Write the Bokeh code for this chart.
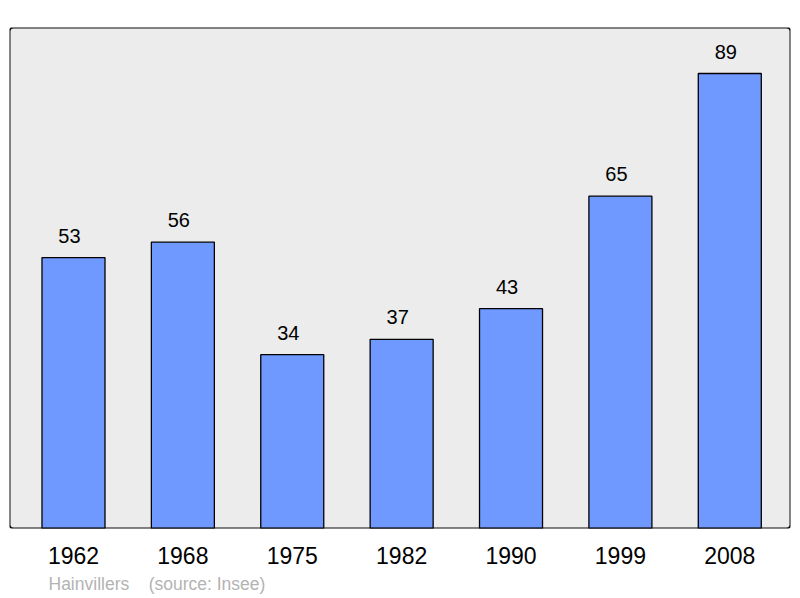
from bokeh.plotting import figure
from bokeh.models import Range1d, FixedTicker, BoxAnnotation, Title, ColumnDataSource
from bokeh.core.properties import value
from bokeh.embed import file_html
from bokeh.resources import INLINE

years = ["1962", "1968", "1975", "1982", "1990", "1999", "2008"]
population = [53, 56, 34, 37, 43, 65, 89]
place = "Hainvillers"
source_note = "(source: Insee)"

xs = list(range(len(years)))
src = ColumnDataSource(dict(x=xs, top=population, label=[str(v) for v in population]))

p = figure(width=800, height=598, output_backend="svg", toolbar_location=None,
           x_range=Range1d(-0.585, 6.555), y_range=Range1d(0, 98),
           min_border_left=9, min_border_right=10, min_border_top=27, min_border_bottom=70)
p.background_fill_color = "white"
p.border_fill_color = "white"
p.outline_line_color = None
p.xgrid.visible = False
p.ygrid.visible = False
p.yaxis.visible = False

bg = BoxAnnotation(fill_color="#ececec", fill_alpha=1, line_color=None, level="underlay",
                   border_radius=4)
p.add_layout(bg)

p.vbar(x="x", top="top", bottom=0, width=0.576, source=src,
       fill_color="#7099ff", line_color="black", line_width=1.3)

p.text(x="x", y="top", text="label", source=src, text_align="center",
       text_baseline="alphabetic", y_offset=-22, x_offset=-4,
       text_font_size=value("20px"), text_font=value("Liberation Sans"), text_color="black")

frame = BoxAnnotation(fill_alpha=0, line_color="#111111", line_alpha=1, line_width=2,
                      border_radius=4, level="overlay")
p.add_layout(frame)

ax = p.xaxis[0]
ax.ticker = FixedTicker(ticks=xs)
ax.major_label_overrides = {i: y for i, y in enumerate(years)}
ax.axis_line_color = None
ax.major_tick_line_color = None
ax.minor_tick_line_color = None
ax.major_label_text_font = "Liberation Sans"
ax.major_label_text_font_size = "23px"
ax.major_label_text_color = "black"
ax.major_label_standoff = 12

footer = Title(text=place + "\u00a0\u00a0\u00a0\u00a0" + source_note, align="left", offset=39,
               text_font="Liberation Sans", text_font_size="17.5px", text_font_style="normal",
               text_color="#b3b3b3", standoff=10)
p.add_layout(footer, "below")

open("out.html", "w").write(file_html(p, INLINE))
